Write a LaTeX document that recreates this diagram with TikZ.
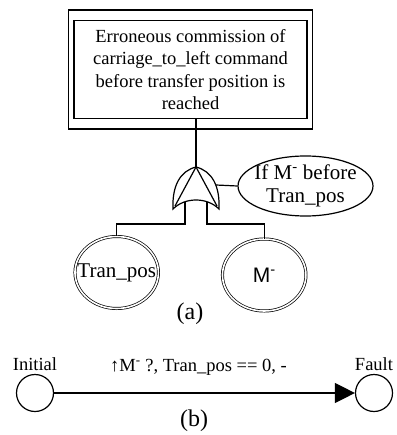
\documentclass[tikz,border=0pt]{standalone}
\usepackage{fontspec}
\setmainfont{Liberation Serif}
\newfontfamily\sansm{Liberation Sans}
\usetikzlibrary{shapes.geometric,arrows.meta,fit}
\tikzset{%
  event/.style      = {shape=rectangle, draw, line width=1.4pt, align=center,%
                       minimum width=233pt, minimum height=98pt, inner sep=0pt},%
  eventframe/.style = {shape=rectangle, draw, line width=1.4pt,%
                       inner xsep=5pt, inner ysep=9.75pt},%
  basic/.style      = {ellipse, draw, double, line width=0.7pt, double distance=1.6pt,%
                       minimum width=83.5pt, minimum height=72pt, inner sep=0pt},%
  cond/.style       = {ellipse, draw, line width=1.2pt,%
                       minimum width=135pt, minimum height=60pt, inner sep=0pt},%
  fsm/.style        = {circle, draw, line width=1.2pt, minimum size=37pt, inner sep=0pt},%
  gateline/.style   = {line width=1.2pt}%
}

\begin{document}
\begin{tikzpicture}[x=1pt, y=-1pt, every node/.style = {font=\fontsize{18.5pt}{22.5pt}\selectfont}]
  \useasboundingbox (0,0) rectangle (396,435);
  \tikzstyle{caption}=[font=\fontsize{24pt}{28pt}\selectfont]%
  \tikzstyle{biglabel}=[font=\fontsize{21pt}{23.5pt}\selectfont]%
  % (a) fault tree
  \node[event] (top) at (190.5,69.5) {Erroneous commission of\\carriage\_to\_left command\\before transfer position is\\reached};
  \node[eventframe, fit=(top)] (topframe) {};
  \coordinate (gate) at (196,167);
  \coordinate (gatel) at (173,209);
  \coordinate (gater) at (219,209);
  \coordinate (legl) at (185,202);
  \coordinate (legr) at (207,202);
  \coordinate (busl) at (185,224);
  \coordinate (busr) at (207,224);
  \coordinate (gateside) at (216,185);
  \draw[gateline] (gatel) .. controls (172,186) and (180,171) .. (gate)
                  .. controls (212,171) and (220,186) .. (gater)
                  .. controls (207,197) and (185,197) .. cycle;
  \draw[gateline] (175,206) -- (gate) -- (217,206);
  \node[cond, label={[biglabel, align=center]center:If M\textsuperscript{-} before\\Tran\_pos}] (cond) at (305.5,186) {};
  \node[basic, label={[biglabel]center:Tran\_pos}] (tranpos) at (116.7,272.5) {};
  \node[basic, label={center:{\sansm\fontsize{21pt}{24pt}\selectfont M\textsuperscript{-}}}] (mneg) at (264.2,275) {};
  \draw[gateline] (top.south -| gate) -- (gate);
  \draw[gateline] (gateside) -- (cond.west);
  \draw[gateline] (legl) -- (busl) -| (tranpos.north);
  \draw[gateline] (legr) -- (busr) -| (mneg.north);
  \node[caption] (capa) at (190,314) {(a)};
  % (b) state machine
  \node[fsm, label=above:Initial] (init) at (35,393) {};
  \node[fsm, label=above:Fault] (fault) at (374,393) {};
  \draw[-{Triangle[length=20pt,width=20pt]}, line width=1.3pt] (init) -- node[above=14pt, pos=0.48] (trans) {↑M\textsuperscript{-} ?, Tran\_pos == 0, -} (fault);
  \node[caption] (capb) at (194,421) {(b)};
\end{tikzpicture}
\end{document}
